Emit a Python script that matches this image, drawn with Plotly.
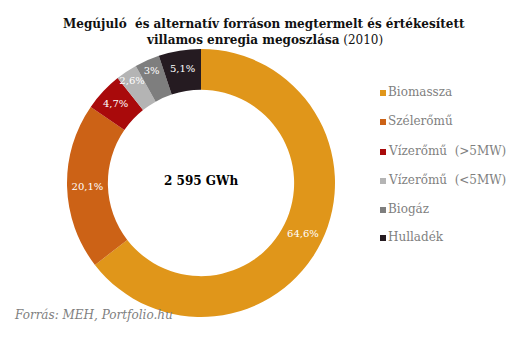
import plotly.graph_objects as go

labels = ["Biomassza", "Szélerőmű", "Vízerőmű  (>5MW)", "Vízerőmű  (<5MW)", "Biogáz", "Hulladék"]
values = [64.6, 20.1, 4.7, 2.6, 3.0, 5.1]
text_labels = ["64,6%", "20,1%", "4,7%", "2,6%", "3%", "5,1%"]
colors = ["#E0961A", "#CC6216", "#A90A0B", "#B4B4B4", "#7E7E7E", "#251B21"]

W, H = 529, 341
cx, cy, R = 201, 183, 134
FONT = "DejaVu Serif"

fig = go.Figure()
fig.add_trace(go.Pie(
    labels=labels, values=values, text=text_labels,
    textinfo="text", textposition="inside", insidetextorientation="horizontal",
    marker=dict(colors=colors, line=dict(width=0)),
    hole=0.695, sort=False, direction="clockwise", rotation=0,
    insidetextfont=dict(color="white", size=10, family=FONT),
    domain=dict(x=[(cx - R) / W, (cx + R) / W], y=[(H - cy - R) / H, (H - cy + R) / H]),
    showlegend=False,
))

annotations = [
    dict(text="<b>Megújuló  és alternatív forráson megtermelt és értékesített</b>",
         x=264 / W, y=1 - 15 / H, xref="paper", yref="paper", showarrow=False,
         font=dict(family=FONT, size=12, color="#111111")),
    dict(text="<b>villamos enregia megoszlása</b> (2010)",
         x=264 / W, y=1 - 31 / H, xref="paper", yref="paper", showarrow=False,
         font=dict(family=FONT, size=12, color="#111111")),
    dict(text="<b>2 595 GWh</b>", x=cx / W, y=1 - 181 / H, xref="paper", yref="paper",
         showarrow=False, font=dict(family=FONT, size=12, color="#000000")),
    dict(text="<i>Forrás: MEH, Portfolio.hu</i>", x=12 / W, y=1 - 324 / H, xref="paper", yref="paper",
         xanchor="left", showarrow=False, font=dict(family=FONT, size=12, color="#7F7F7F")),
]
shapes = []
legend_y = [92, 121, 151, 180, 209, 237]
for lab, col, ly in zip(labels, colors, legend_y):
    annotations.append(dict(text=lab, x=386 / W, y=1 - ly / H, yanchor="middle",
                            xref="paper", yref="paper", xanchor="left", showarrow=False,
                            font=dict(family=FONT, size=12, color="#7F7F7F")))
    shapes.append(dict(type="rect", xref="paper", yref="paper",
                       x0=380 / W, x1=386 / W, y0=1 - (ly + 4) / H, y1=1 - (ly - 2) / H,
                       fillcolor=col, line=dict(width=0)))

fig.update_layout(
    width=W, height=H, margin=dict(l=0, r=0, t=0, b=0),
    paper_bgcolor="white", plot_bgcolor="white",
    uniformtext=dict(minsize=10, mode="show"),
    annotations=annotations, shapes=shapes, showlegend=False,
)
fig.write_html("out.html")
